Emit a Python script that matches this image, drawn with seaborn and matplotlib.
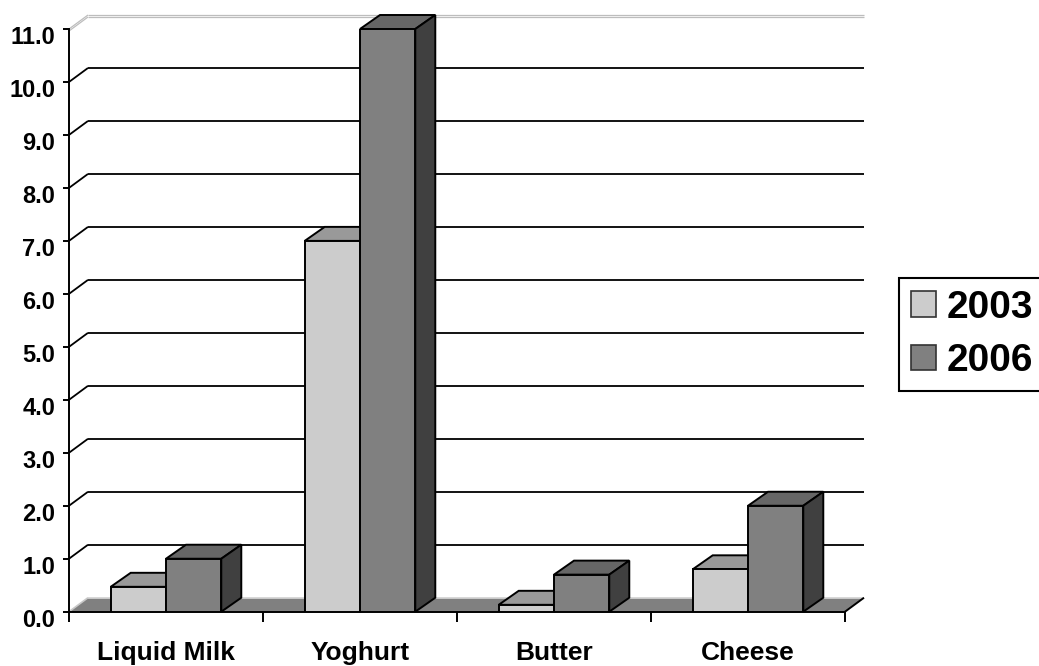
"""
Dairy sales growth, 2003 vs 2006 - Excel-style 3D clustered columns
redrawn with seaborn + a few hand-made faces for the depth effect.
"""
import numpy as np
import pandas as pd
import matplotlib
matplotlib.use("Agg")
import matplotlib.pyplot as plt
from matplotlib.patches import Polygon, Patch
from matplotlib.transforms import ScaledTranslation
import seaborn as sns


# ─────────────────────────────────────────────
# Data
# ─────────────────────────────────────────────
CATEGORIES  = ["Liquid Milk", "Yoghurt", "Butter", "Cheese"]
YEARS       = ["2003", "2006"]
VALUES_2003 = [0.47, 7.0, 0.13, 0.8]
VALUES_2006 = [1.0, 11.0, 0.7, 2.0]
Y_TICKS     = [0, 1, 2, 3, 4, 5, 6, 7, 8, 9, 10, 11]

# ─────────────────────────────────────────────
# Style
# ─────────────────────────────────────────────
FRONT = {"2003": "#CCCCCC", "2006": "#808080"}
TOP   = {"2003": "#999999", "2006": "#666666"}
SIDE  = {"2003": "#666666", "2006": "#404040"}
WALL_D = (19, 14)   # depth offset of back wall, pixels
BAR_D  = (20, 14)   # depth offset of each column, pixels
EDGE_LW = 1.4

df = pd.DataFrame({
    "category": CATEGORIES * 2,
    "year": [YEARS[0]] * len(CATEGORIES) + [YEARS[1]] * len(CATEGORIES),
    "value": VALUES_2003 + VALUES_2006,
})

sns.set_theme(style="white")
plt.rcParams["font.family"] = ["Liberation Sans", "DejaVu Sans"]
plt.rcParams["font.weight"] = "bold"
plt.rcParams["text.color"] = "black"
plt.rcParams["xtick.labelcolor"] = "black"
plt.rcParams["ytick.labelcolor"] = "black"

W, H = 1039, 666
fig = plt.figure(figsize=(W / 100, H / 100), dpi=100)
x0, x1, ybot, ytop = 69, 845, 611.7, 29
ax = fig.add_axes([x0 / W, (H - ybot) / H, (x1 - x0) / W, (ybot - ytop) / H])

sns.barplot(data=df, x="category", y="value", hue="year", hue_order=YEARS,
            palette=[FRONT[y] for y in YEARS], saturation=1, width=0.57,
            edgecolor="black", linewidth=EDGE_LW, legend=False, ax=ax)
ax.set_xlim(-0.5, len(CATEGORIES) - 0.5)
ax.set_ylim(0, Y_TICKS[-1])
ax.set_autoscale_on(False)
ax.set_xlabel("")
ax.set_ylabel("")
ax.grid(False)


def shift(x, y, d):
    """Move a data point by a pixel offset (dx right, dy up)."""
    px = ax.transData.transform((x, y)) + np.array(d, dtype=float)
    return tuple(ax.transData.inverted().transform(px))


def seg(p, q, **kw):
    ax.plot([p[0], q[0]], [p[1], q[1]], clip_on=False, solid_capstyle="butt", **kw)


xl_, xr_ = ax.get_xlim()

# floor
floor = [(xl_, 0), (xr_, 0), shift(xr_, 0, WALL_D), shift(xl_, 0, WALL_D)]
ax.add_patch(Polygon(floor, closed=True, facecolor="#808080", edgecolor="none",
                     zorder=1, clip_on=False))
seg(shift(xl_, 0, WALL_D), shift(xr_, 0, WALL_D), color="#D8D8D8", lw=1.2, zorder=1.2)
seg((xl_, 0), shift(xl_, 0, WALL_D), color="#C8C8C8", lw=1.2, zorder=1.2)
seg((xr_, 0), shift(xr_, 0, WALL_D), color="black", lw=EDGE_LW, zorder=1.2)

# back-wall gridlines + left-wall diagonals
for yv in Y_TICKS[1:-1]:
    seg(shift(xl_, yv, WALL_D), shift(xr_, yv, WALL_D), color="black", lw=1.3, zorder=1.5)
    seg((xl_, yv), shift(xl_, yv, WALL_D), color="black", lw=1.3, zorder=1.5)

# top edge of the walls (light double line)
top_y = Y_TICKS[-1]
for off in (0, 2):
    d = (WALL_D[0], WALL_D[1] - off)
    seg(shift(xl_, top_y, (0, -off)), shift(xl_, top_y, d), color="#BDBDBD", lw=0.9, zorder=1.5)
    seg(shift(xl_, top_y, d), shift(xr_, top_y, d), color="#BDBDBD", lw=0.9, zorder=1.5)

# columns: add top + side faces, ordered left to right
years = [y for y in YEARS for _ in CATEGORIES]
bars = sorted(zip(ax.patches[:len(years)], years), key=lambda t: t[0].get_x())
for i, (p, yr) in enumerate(bars):
    xl, w, h = p.get_x(), p.get_width(), p.get_height()
    xr = xl + w
    base = 3 + 2 * i
    top = [(xl, h), (xr, h), shift(xr, h, BAR_D), shift(xl, h, BAR_D)]
    side = [(xr, 0), shift(xr, 0, BAR_D), shift(xr, h, BAR_D), (xr, h)]
    ax.add_patch(Polygon(top, closed=True, facecolor=TOP[yr], edgecolor="black",
                         lw=EDGE_LW, joinstyle="miter", zorder=base, clip_on=False))
    ax.add_patch(Polygon(side, closed=True, facecolor=SIDE[yr], edgecolor="black",
                         lw=EDGE_LW, joinstyle="miter", zorder=base, clip_on=False))
    p.set_zorder(base + 1)
    p.set_joinstyle("miter")

# axes / ticks
for s in ("top", "right"):
    ax.spines[s].set_visible(False)
for s in ("left", "bottom"):
    ax.spines[s].set_color("black")
    ax.spines[s].set_linewidth(EDGE_LW)
    ax.spines[s].set_zorder(2.5)

ax.set_yticks(Y_TICKS)
ax.set_yticklabels([f"{v:.1f}" for v in Y_TICKS])
ax.tick_params(axis="y", which="major", left=True, direction="out", length=4,
               width=EDGE_LW, color="black", labelcolor="black", pad=6, labelsize=17)
for lab in ax.get_yticklabels():
    lab.set_fontweight("bold")
    lab.set_transform(lab.get_transform() + ScaledTranslation(0, -0.06, fig.dpi_scale_trans))

ax.set_xticks(range(len(CATEGORIES)))
ax.set_xticklabels(CATEGORIES)
ax.set_xticks([k - 0.5 for k in range(len(CATEGORIES) + 1)], minor=True)
ax.tick_params(axis="x", which="major", bottom=True, length=0, pad=21,
               labelsize=19, labelcolor="black")
ax.tick_params(axis="x", which="minor", bottom=True, direction="out", length=7,
               width=EDGE_LW, color="black")
for lab in ax.get_xticklabels():
    lab.set_fontweight("bold")

# legend
handles = [Patch(facecolor=FRONT[y], edgecolor="#333333", lw=1.2) for y in YEARS]
leg = fig.legend(handles, YEARS, loc="upper left", bbox_to_anchor=(899 / W, 1 - 278 / H),
                 frameon=True, fancybox=False, framealpha=1, edgecolor="black",
                 prop={"size": 28, "weight": "bold"}, handlelength=0.64, handleheight=0.64,
                 handletextpad=0.28, borderpad=0.3, labelspacing=0.45, borderaxespad=0)
leg.get_frame().set_linewidth(1.5)
for t in leg.get_texts():
    t.set_color("black")

fig.savefig("out.png", dpi=100, facecolor="white")
